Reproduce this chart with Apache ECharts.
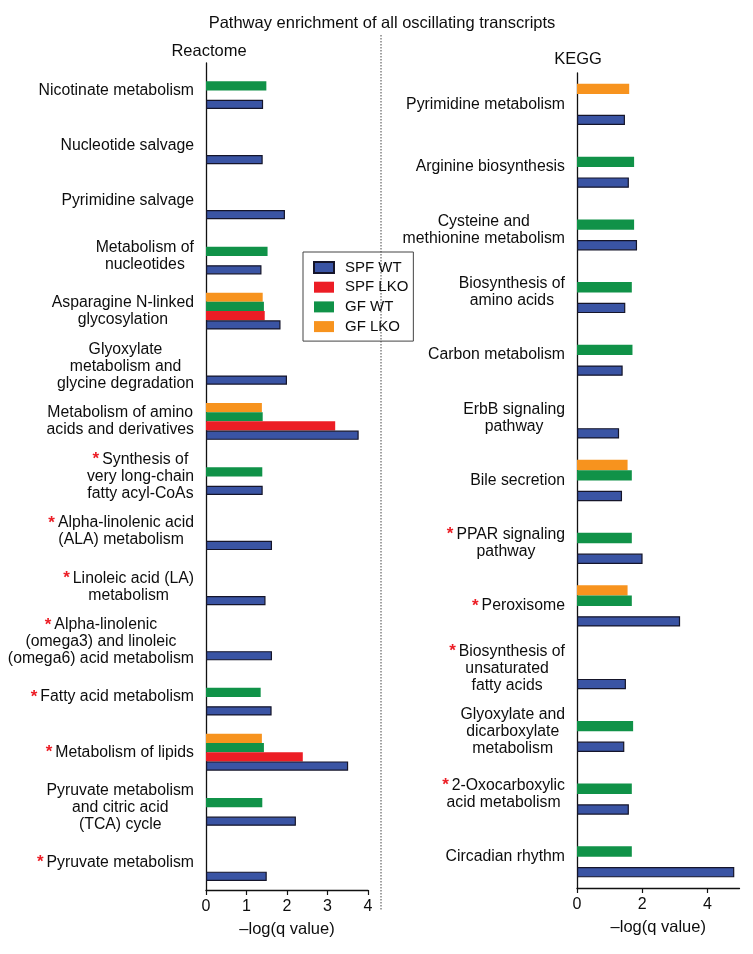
<!DOCTYPE html>
<html>
<head>
<meta charset="utf-8">
<script src="https://cdn.jsdelivr.net/npm/echarts@6/dist/echarts.min.js"></script>
<style>html,body{margin:0;padding:0;background:#fff;}#c{width:753px;height:954px;}</style>
</head>
<body>
<div id="c"></div>
<script>
// ---- Reactome (top to bottom) ----
var reactomeCats = [
  'Nicotinate metabolism',
  'Nucleotide salvage',
  'Pyrimidine salvage',
  'Metabolism of\nnucleotides',
  'Asparagine N-linked\nglycosylation',
  'Glyoxylate\nmetabolism and\nglycine degradation',
  'Metabolism of amino\nacids and derivatives',
  'Synthesis of\nvery long-chain\nfatty acyl-CoAs',
  'Alpha-linolenic acid\n(ALA) metabolism',
  'Linoleic acid (LA)\nmetabolism',
  'Alpha-linolenic\n(omega3) and linoleic\n(omega6) acid metabolism',
  'Fatty acid metabolism',
  'Metabolism of lipids',
  'Pyruvate metabolism\nand citric acid\n(TCA) cycle',
  'Pyruvate metabolism'
];
var reactomeStar = [0,0,0,0,0,0,0,1,1,1,1,1,1,0,1];
var reactomeSpfWT  = [1.41,1.40,1.95,1.37,1.84,2.00,3.77,1.40,1.63,1.47,1.63,1.62,3.51,2.22,1.50];
var reactomeSpfLKO = [null,null,null,null,1.45,null,3.19,null,null,null,null,null,2.39,null,null];
var reactomeGfWT   = [1.49,null,null,1.52,1.43,null,1.40,1.39,null,null,null,1.35,1.43,1.39,null];
var reactomeGfLKO  = [null,null,null,null,1.40,null,1.38,null,null,null,null,null,1.38,null,null];

// ---- KEGG (top to bottom) ----
var keggCats = [
  'Pyrimidine metabolism',
  'Arginine biosynthesis',
  'Cysteine and\nmethionine metabolism',
  'Biosynthesis of\namino acids',
  'Carbon metabolism',
  'ErbB signaling\npathway',
  'Bile secretion',
  'PPAR signaling\npathway',
  'Peroxisome',
  'Biosynthesis of\nunsaturated\nfatty acids',
  'Glyoxylate and\ndicarboxylate\nmetabolism',
  '2-Oxocarboxylic\nacid metabolism',
  'Circadian rhythm'
];
var keggStar = [0,0,0,0,0,0,0,1,1,1,0,1,0];
var keggSpfWT  = [1.47,1.59,1.84,1.48,1.40,1.29,1.38,2.01,3.16,1.50,1.45,1.59,4.82];
var keggSpfLKO = [null,null,null,null,null,null,null,null,null,null,null,null,null];
var keggGfWT   = [null,1.75,1.75,1.68,1.70,null,1.68,1.68,1.68,null,1.72,1.68,1.68];
var keggGfLKO  = [1.60,null,null,null,null,null,1.55,null,1.55,null,null,null,null];

var reactomeTicks = [0,1,2,3,4];
var keggTicks = [0,2,4];

var seriesNames = ['SPF WT','SPF LKO','GF WT','GF LKO'];
var FONT = '"Liberation Sans", Arial, Helvetica, sans-serif';
var TXT = '#0d0d0d';
var colors = {'SPF WT':'#3A54A4','SPF LKO':'#EC1D25','GF WT':'#109248','GF LKO':'#F7931E'};

function labelFormatter(stars, cats) {
  return function (value) {
    var i = cats.indexOf(value);
    var lines = value.split('\n');
    return lines.map(function (l, k) {
      return (k === 0 && stars[i] ? '{s|*}' : '') + '{t|' + l + '}';
    }).join('\n');
  };
}
var rich = {
  t: {fontSize: 15.8, fontFamily: FONT, color: TXT, align: 'center', lineHeight: 17},
  s: {fontSize: 17, fontFamily: FONT, fontWeight: 'bold', color: '#EC1D25', align: 'center', lineHeight: 17, padding: [0, 3, 0, 0]}
};

function yAxis(cats, stars, gi) {
  return {
    type: 'category', gridIndex: gi, data: cats, inverse: true,
    axisLine: {lineStyle: {color: '#111', width: 1.3}},
    axisTick: {alignWithLabel: true, length: 6, lineStyle: {color: '#111', width: 1.2}},
    axisLabel: {margin: 12, formatter: labelFormatter(stars, cats), rich: rich, interval: 0},
    splitLine: {show: false}
  };
}
function xAxis(gi, max, interval, ticks) {
  return {
    type: 'value', gridIndex: gi, min: 0, max: max, interval: interval,
    name: '\u2013log(q value)', nameLocation: 'middle', nameGap: 31,
    nameTextStyle: {fontSize: 16.5, fontFamily: FONT, color: TXT},
    axisLine: {show: true, lineStyle: {color: '#111', width: 1.3}},
    axisTick: {show: true, length: 5, lineStyle: {color: '#111', width: 1.2}, customValues: ticks},
    axisLabel: {fontSize: 16, fontFamily: FONT, color: TXT, margin: 9, customValues: ticks},
    splitLine: {show: false}
  };
}

function makeSeries(gi, data, gap) {
  // top-to-bottom order within a category: GF LKO, GF WT, SPF LKO, SPF WT
  var order = ['GF LKO','GF WT','SPF LKO','SPF WT'];
  return order.map(function (n) {
    var isBlue = n === 'SPF WT';
    return {
      name: n, type: 'bar', xAxisIndex: gi, yAxisIndex: gi, data: data[n],
      barGap: '0%', barCategoryGap: gap,
      itemStyle: {color: colors[n], borderColor: isBlue ? '#15152a' : colors[n], borderWidth: isBlue ? 1.2 : 0},
      emphasis: {disabled: true}, silent: true
    };
  });
}

var chart = echarts.init(document.getElementById('c'), null, {renderer: 'canvas'});
var option = {
  backgroundColor: '#ffffff',
  animation: false,
  textStyle: {fontFamily: FONT},
  legend: {
    orient: 'vertical', left: 303, top: 252,
    data: seriesNames, icon: 'rect', itemWidth: 20, itemHeight: 11, itemGap: 4.7,
    borderColor: '#444', borderWidth: 1, padding: [8, 5, 7, 10],
    textStyle: {fontSize: 15, fontFamily: FONT, color: TXT, padding: [0, 0, 0, 6]},
    selectedMode: false
  },
  grid: [
    {left: 206, width: 162, top: 63, height: 827},
    {left: 577, width: 162.5, top: 73, height: 815}
  ],
  xAxis: [xAxis(0, 4, 1, reactomeTicks), xAxis(1, 4.98, 2, keggTicks)],
  yAxis: [yAxis(reactomeCats, reactomeStar, 0), yAxis(keggCats, keggStar, 1)],
  series: makeSeries(0, {'SPF WT': reactomeSpfWT, 'SPF LKO': reactomeSpfLKO, 'GF WT': reactomeGfWT, 'GF LKO': reactomeGfLKO}, '33%')
    .concat(makeSeries(1, {'SPF WT': keggSpfWT, 'SPF LKO': keggSpfLKO, 'GF WT': keggGfWT, 'GF LKO': keggGfLKO}, '34%')),
  graphic: [
    {type: 'text', x: 382, y: 23, style: {text: 'Pathway enrichment of all oscillating transcripts', fontSize: 16.5, fontFamily: FONT, fill: TXT, align: 'center', verticalAlign: 'middle'}},
    {type: 'text', x: 209, y: 51, style: {text: 'Reactome', fontSize: 16.5, fontFamily: FONT, fill: TXT, align: 'center', verticalAlign: 'middle'}},
    {type: 'text', x: 578, y: 59, style: {text: 'KEGG', fontSize: 16.5, fontFamily: FONT, fill: TXT, align: 'center', verticalAlign: 'middle'}},
    {type: 'line', shape: {x1: 381, y1: 35, x2: 381, y2: 911}, style: {stroke: '#444', lineWidth: 1, lineDash: [1.5, 1.5]}}
  ]
};
chart.setOption(option);
</script>
</body>
</html>
